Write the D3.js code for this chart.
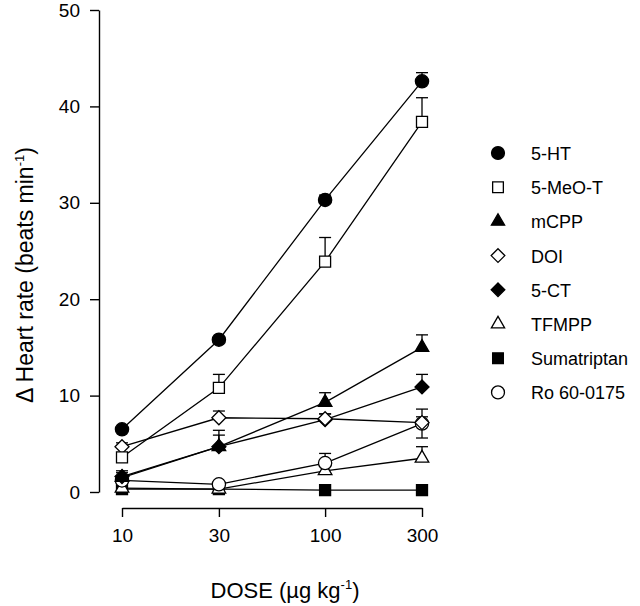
<!DOCTYPE html>
<html><head><meta charset="utf-8">
<script src="https://cdn.jsdelivr.net/npm/d3@7"></script>
<style>body{margin:0;background:#fff}svg{display:block}text{font-family:"Liberation Sans",Arial,sans-serif;fill:#000}</style>
</head><body><svg id="c" width="640" height="606"></svg>
<script>
const doses = [10, 30, 100, 300];
const yTicks = [0, 10, 20, 30, 40, 50];
const seriesNames = ["5-HT","5-MeO-T","mCPP","DOI","5-CT","TFMPP","Sumatriptan","Ro 60-0175"];
const symbols = ["circleF","squareO","triangleF","diamondO","diamondF","triangleO","squareF","circleO"];
const v_5HT   = [6.5, 15.8, 30.3, 42.6];
const e_5HT   = [0, 0, 0.5, 0.9];
const v_5MeOT = [3.6, 10.8, 23.9, 38.4];
const e_5MeOT = [0.4, 1.4, 2.5, 2.5];
const v_mCPP  = [1.5, 4.7, 9.3, 15.0];
const e_mCPP  = [0.5, 1.7, 1.0, 1.3];
const v_DOI   = [4.7, 7.7, 7.6, 7.2];
const e_DOI   = [0.4, 0.7, 0.5, 0.6];
const v_5CT   = [1.6, 4.7, 7.5, 10.9];
const e_5CT   = [0.6, 1.2, 0.6, 1.3];
const v_TFMPP = [0.4, 0.3, 2.2, 3.5];
const e_TFMPP = [0.2, 0.2, 0.5, 1.2];
const v_Suma  = [0.3, 0.3, 0.2, 0.2];
const e_Suma  = [0, 0, 0, 0];
const v_Ro    = [1.2, 0.8, 3.0, 7.1];
const e_Ro    = [0.4, 0.2, 1.0, 1.5];
const values = [v_5HT, v_5MeOT, v_mCPP, v_DOI, v_5CT, v_TFMPP, v_Suma, v_Ro];
const errors = [e_5HT, e_5MeOT, e_mCPP, e_DOI, e_5CT, e_TFMPP, e_Suma, e_Ro];

const svg = d3.select("#c");
const x = d3.scaleLog().domain([10, 300]).range([122, 422]);
const y = d3.scaleLinear().domain([0, 50]).range([492, 10]);
const FS = 19;

// y axis
const ya = svg.append("g").attr("transform","translate(99,0)")
  .call(d3.axisLeft(y).tickValues(yTicks).tickSize(9).tickPadding(10).tickSizeOuter(0));
ya.selectAll("path,line").attr("stroke","#000").attr("stroke-width",1.4);
ya.selectAll("text").style("font-size",FS+"px").style("font-family","Liberation Sans, Arial");
// x axis
const xa = svg.append("g").attr("transform","translate(0,508)")
  .call(d3.axisBottom(x).tickValues(doses).tickFormat(d3.format("d")).tickSize(9).tickPadding(12).tickSizeOuter(0));
xa.selectAll("path,line").attr("stroke","#000").attr("stroke-width",1.4);
xa.selectAll("text").style("font-size",FS+"px").style("font-family","Liberation Sans, Arial");

// axis titles
const xt = svg.append("text").attr("x",285).attr("y",598).attr("text-anchor","middle").style("font-size","22px");
xt.append("tspan").text("DOSE (µg kg");
xt.append("tspan").attr("dy",-9).style("font-size","13px").text("-1");
xt.append("tspan").attr("dy",9).text(")");
const yt = svg.append("text").attr("transform","translate(33,275) rotate(-90)").attr("text-anchor","middle").style("font-size","23px");
yt.append("tspan").text("Δ Heart rate (beats min");
yt.append("tspan").attr("dy",-9).style("font-size","13px").text("-1");
yt.append("tspan").attr("dy",9).text(")");

function drawSym(g, type, cx, cy, s) {
  const fill = type.endsWith("F") ? "#000" : "#fff";
  const base = type.slice(0, -1);
  let d;
  if (base === "circle") d = d3.symbol(d3.symbolCircle, 138*s)();
  else if (base === "square") d = d3.symbol(d3.symbolSquare, 121*s)();
  else if (base === "triangle") d = d3.symbol(d3.symbolTriangle, 80*s)();
  else { const h = 7*Math.sqrt(s); d = `M0,${-h}L${h},0L0,${h}L${-h},0Z`; }
  g.append("path").attr("d", d)
    .attr("transform", `translate(${cx},${cy})`)
    .attr("fill", fill).attr("stroke","#000").attr("stroke-width",1.3);
}

const line = d3.line().x((d,i)=>x(doses[i])).y(d=>y(d));
const plot = svg.append("g");
values.forEach((vals, k) => {
  plot.append("path").attr("d", line(vals)).attr("fill","none").attr("stroke","#000").attr("stroke-width",1.3);
});
// error bars
values.forEach((vals, k) => {
  vals.forEach((v, i) => {
    const e = errors[k][i];
    if (e <= 0) return;
    const cx = x(doses[i]);
    const both = (k === 7 && i === 3);
    const lo = both ? v - e : v;
    plot.append("line").attr("x1",cx).attr("x2",cx).attr("y1",y(lo)).attr("y2",y(v+e)).attr("stroke","#000").attr("stroke-width",1.3);
    plot.append("line").attr("x1",cx-6).attr("x2",cx+6).attr("y1",y(v+e)).attr("y2",y(v+e)).attr("stroke","#000").attr("stroke-width",1.3);
    if (both) plot.append("line").attr("x1",cx-6).attr("x2",cx+6).attr("y1",y(v-e)).attr("y2",y(v-e)).attr("stroke","#000").attr("stroke-width",1.3);
  });
});
// markers (draw bottom series first)
const order = [6,5,7,4,3,2,1,0];
order.forEach(k => {
  values[k].forEach((v, i) => drawSym(plot, symbols[k], x(doses[i]), y(v), 1));
});

// legend
const lg = svg.append("g");
seriesNames.forEach((n, k) => {
  const ly = 153 + k * 34.2;
  drawSym(lg, symbols[k], 498, ly, 0.95);
  lg.append("text").attr("x",531).attr("y",ly+7).style("font-size","18px").text(n);
});
</script></body></html>
